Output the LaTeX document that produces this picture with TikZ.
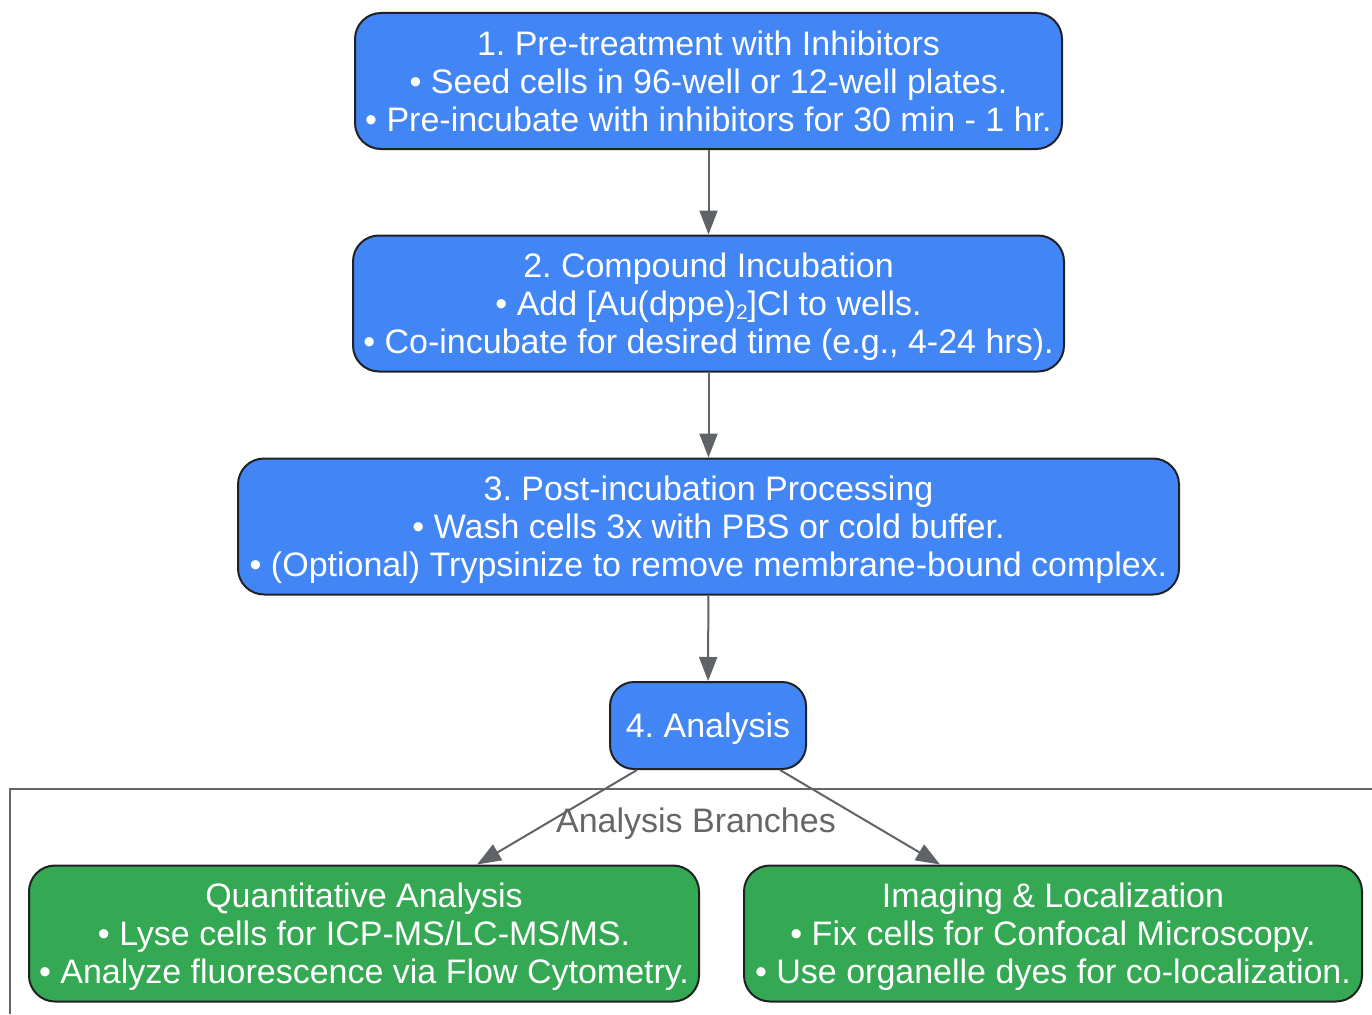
\documentclass[tikz,border=0pt]{standalone}
\usepackage{fontspec}
\setmainfont{Liberation Sans}
\usetikzlibrary{arrows.meta}
\definecolor{stepblue}{HTML}{4285F4}
\definecolor{stepgreen}{HTML}{34A853}
\definecolor{edgegray}{HTML}{5F6368}
\definecolor{rimgray}{HTML}{202124}
\definecolor{clustgray}{HTML}{666666}
\newcommand{\subtwo}{\raisebox{-0.12em}{\fontsize{21}{21}\selectfont 2}}
\frenchspacing

\begin{document}
\begin{tikzpicture}[x=1pt,y=-1pt,
	stepbox/.style={draw=rimgray, line width=2pt, rounded corners=26pt, text=white, align=center, font=\fontsize{34}{38}\selectfont, inner sep=0pt, text depth=0pt, minimum height=136pt},
	bluebox/.style={stepbox, fill=stepblue},
	greenbox/.style={stepbox, fill=stepgreen},
	flow/.style={draw=edgegray, line width=2pt, -{Triangle[length=24pt,width=18pt]}}]
	\useasboundingbox (0,0) rectangle (1372,1014);
	% cluster frame
	\draw[clustgray, line width=2pt] (10,1014) -- (10,789) -- (1372,789);
	\node[text=clustgray, font=\fontsize{34}{38}\selectfont, text depth=0pt] (brlabel) at (696,820) {Analysis Branches};

	\node[bluebox, minimum width=707pt] (pre) at (708.5,81) {1. Pre-treatment with Inhibitors\\ \textbullet\ Seed cells in 96-well or 12-well plates.\\ \textbullet\ Pre-incubate with inhibitors for 30 min - 1 hr.};
	\node[bluebox, minimum width=711pt] (inc) at (708.5,303.5) {2. Compound Incubation\\ \textbullet\ Add [Au(dppe)\subtwo]Cl to wells.\\ \textbullet\ Co-incubate for desired time (e.g., 4-24 hrs).};
	\node[bluebox, minimum width=941pt] (post) at (708.5,526.5) {3. Post-incubation Processing\\ \textbullet\ Wash cells 3x with PBS or cold buffer.\\ \textbullet\ (Optional) Trypsinize to remove membrane-bound complex.};
	\node[bluebox, minimum width=196pt, minimum height=87pt, rounded corners=24pt] (ana) at (708,725.5) {4. Analysis};
	\node[greenbox, minimum width=670pt] (quant) at (364,933.5) {Quantitative Analysis\\ \textbullet\ Lyse cells for ICP-MS/LC-MS/MS.\\ \textbullet\ Analyze fluorescence via Flow Cytometry.};
	\node[greenbox, minimum width=618pt] (img) at (1053,933.5) {Imaging \& Localization\\ \textbullet\ Fix cells for Confocal Microscopy.\\ \textbullet\ Use organelle dyes for co-localization.};

	\draw[flow] (pre) -- (inc);
	\draw[flow] (inc) -- (post);
	\draw[flow] (post) -- (ana);
	\draw[flow] ([xshift=-71pt]ana.south) -- ([xshift=113pt]quant.north);
	\draw[flow] ([xshift=72pt]ana.south) -- ([xshift=-113pt]img.north);
\end{tikzpicture}
\end{document}
